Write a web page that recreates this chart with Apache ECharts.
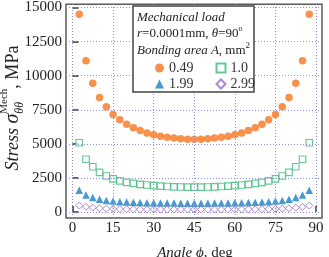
<!DOCTYPE html>
<html><head><meta charset="utf-8">
<script src="https://cdn.jsdelivr.net/npm/echarts@6/dist/echarts.min.js"></script>
<style>html,body{margin:0;padding:0;background:#fff}#c{width:329px;height:257px}</style>
</head><body><div id="c"></div>
<script>
// ---- data ----
const angles = [2.5,5,7.5,10,12.5,15,17.5,20,22.5,25,27.5,30,32.5,35,37.5,40,42.5,45,
  47.5,50,52.5,55,57.5,60,62.5,65,67.5,70,72.5,75,77.5,80,82.5,85,87.5];
const stressA049 = [14500,11100,9450,8400,7720,7150,6760,6440,6180,5970,5800,5670,5560,5480,5420,5370,5340,5330,
  5340,5370,5420,5480,5560,5670,5800,5970,6180,6440,6760,7150,7720,8400,9450,11100,14500];
const stressA100 = [5080,3870,3320,2900,2640,2430,2290,2180,2100,2030,1980,1940,1900,1870,1850,1835,1825,1820,
  1825,1835,1850,1870,1900,1940,1980,2030,2100,2180,2290,2430,2640,2900,3320,3870,5080];
const stressA199 = [1590,1250,1070,940,850,800,760,730,710,695,680,670,665,660,655,650,650,650,
  650,650,655,660,665,670,680,695,710,730,760,800,850,940,1070,1250,1590];
const stressA299 = [470,380,320,275,245,225,215,205,200,195,190,188,186,185,184,183,183,183,
  183,183,184,185,186,188,190,195,200,205,215,225,245,275,320,380,470];
const seriesNames = ['0.49','1.0','1.99','2.99'];
const xTicks = [0,15,30,45,60,75,90];
const yTicks = [0,2500,5000,7500,10000,12500,15000];

// ---- styling ----
const SERIF = '"Liberation Serif","Times New Roman",serif';
const C_OR = '#f8761f', C_GR = '#3dba7c', C_BL = '#1a7fc4', C_PU = '#9a68bf';
const frameColor = '#5a5a5a', gridColor = '#8f8fe0', txt = '#222';

const chart = echarts.init(document.getElementById('c'), null, {renderer:'canvas'});
const pairs = ys => angles.map((a,i)=>[a, ys[i]]);

const mctx = document.createElement('canvas').getContext('2d');
function runGroup(parts, color, z){
  let cursor = 0, prevStart = 0; const children = [];
  for (const p of parts){
    mctx.font = (p.it?'italic ':'') + p.fs + 'px ' + SERIF;
    const w = mctx.measureText(p.t).width;
    const start = p.stack ? prevStart : cursor;
    children.push({type:'text', z:z||5, x:start, y:(p.dy||0) - 0.3*p.fs,
      style:{text:p.t, fontSize:p.fs, fontFamily:SERIF, fontStyle:p.it?'italic':'normal',
        fill:color, verticalAlign:'middle', align:'left'}});
    prevStart = start;
    cursor = Math.max(cursor, start + w);
  }
  return {children, width:cursor};
}

const yl = runGroup([
  {t:'Stress ', it:1, fs:18}, {t:'σ', it:1, fs:20},
  {t:'θθ', it:1, fs:12, dy:4}, {t:'Mech', fs:11, dy:-12, stack:1},
  {t:', MPa', fs:18}], txt);
const xl = runGroup([{t:'Angle ', it:1, fs:15},{t:'ϕ', it:1, fs:15},{t:', deg', fs:15}], txt);
const l1 = runGroup([{t:'Mechanical load', it:1, fs:13}], txt, 20);
const l2 = runGroup([{t:'r', it:1, fs:13},{t:'=0.0001mm, ', fs:13},{t:'θ', it:1, fs:13},{t:'=90', fs:13},{t:'o', fs:8, dy:-6}], txt, 20);
const l3 = runGroup([{t:'Bonding area ', it:1, fs:13},{t:'A', it:1, fs:13},{t:', mm', fs:13},{t:'2', fs:9, dy:-6}], txt, 20);

const legendCommon = {orient:'horizontal', itemGap:22, itemWidth:9, itemHeight:9, z:12,
  textStyle:{fontFamily:SERIF, fontSize:14, color:'#333'}, selectedMode:false};

chart.setOption({
  animation:false,
  backgroundColor:'#fff',
  grid:{left:66, top:4, width:256, height:214, show:true, borderColor:frameColor, borderWidth:1.5, backgroundColor:'#fff'},
  xAxis:{type:'value', min:-2.4, max:92.2,
    axisLine:{show:false},
    axisTick:{show:true, inside:true, length:6, customValues:xTicks, lineStyle:{color:'#333', width:1.5}},
    axisLabel:{customValues:xTicks, formatter:v=>String(v), fontFamily:SERIF, fontSize:15, color:txt, margin:3},
    splitLine:{show:false}},
  yAxis:{type:'value', min:-440, max:15240,
    axisLine:{show:false},
    axisTick:{show:true, inside:true, length:6, customValues:yTicks, lineStyle:{color:'#333', width:1.5}},
    axisLabel:{customValues:yTicks, formatter:v=>String(v), fontFamily:SERIF, fontSize:15, color:txt, margin:4},
    splitLine:{show:false}},
  legend:[
    Object.assign({data:[seriesNames[0], seriesNames[1]], left:150, top:56}, legendCommon),
    Object.assign({data:[seriesNames[2], seriesNames[3]], left:150, top:72}, legendCommon)
  ],
  series:[
    {type:'line', data:[], z:1, silent:true,
      markLine:{silent:true, symbol:'none', label:{show:false},
        lineStyle:{type:[1,2], color:gridColor, width:1},
        data:[...xTicks.map(v=>({xAxis:v})), ...yTicks.map(v=>({yAxis:v}))]}},
    {name:seriesNames[0], type:'scatter', data:pairs(stressA049), symbol:'circle', symbolSize:7.5, z:3,
      itemStyle:{color:C_OR}},
    {name:seriesNames[1], type:'scatter', data:pairs(stressA100), symbol:'rect', symbolSize:6.5, z:3,
      itemStyle:{color:'#fff', borderColor:C_GR, borderWidth:1.2}},
    {name:seriesNames[2], type:'scatter', data:pairs(stressA199), symbol:'triangle', symbolSize:7.5, z:3,
      itemStyle:{color:C_BL}},
    {name:seriesNames[3], type:'scatter', data:pairs(stressA299), symbol:'diamond', symbolSize:[7,7], z:3,
      itemStyle:{color:'#fff', borderColor:C_PU, borderWidth:1}}
  ],
  graphic:[
    {type:'rect', z:10, shape:{x:133, y:6, width:121, height:86}, style:{fill:'#fff', stroke:'#444', lineWidth:1.5}},
    {type:'group', z:20, x:137, y:21, children:l1.children},
    {type:'group', z:20, x:137, y:37, children:l2.children},
    {type:'group', z:20, x:137, y:54, children:l3.children},
    {type:'group', x:195 - xl.width/2, y:258, children:xl.children},
    {type:'group', x:19, y:108 + yl.width/2, rotation:Math.PI/2, children:yl.children}
  ]
});
</script></body></html>
